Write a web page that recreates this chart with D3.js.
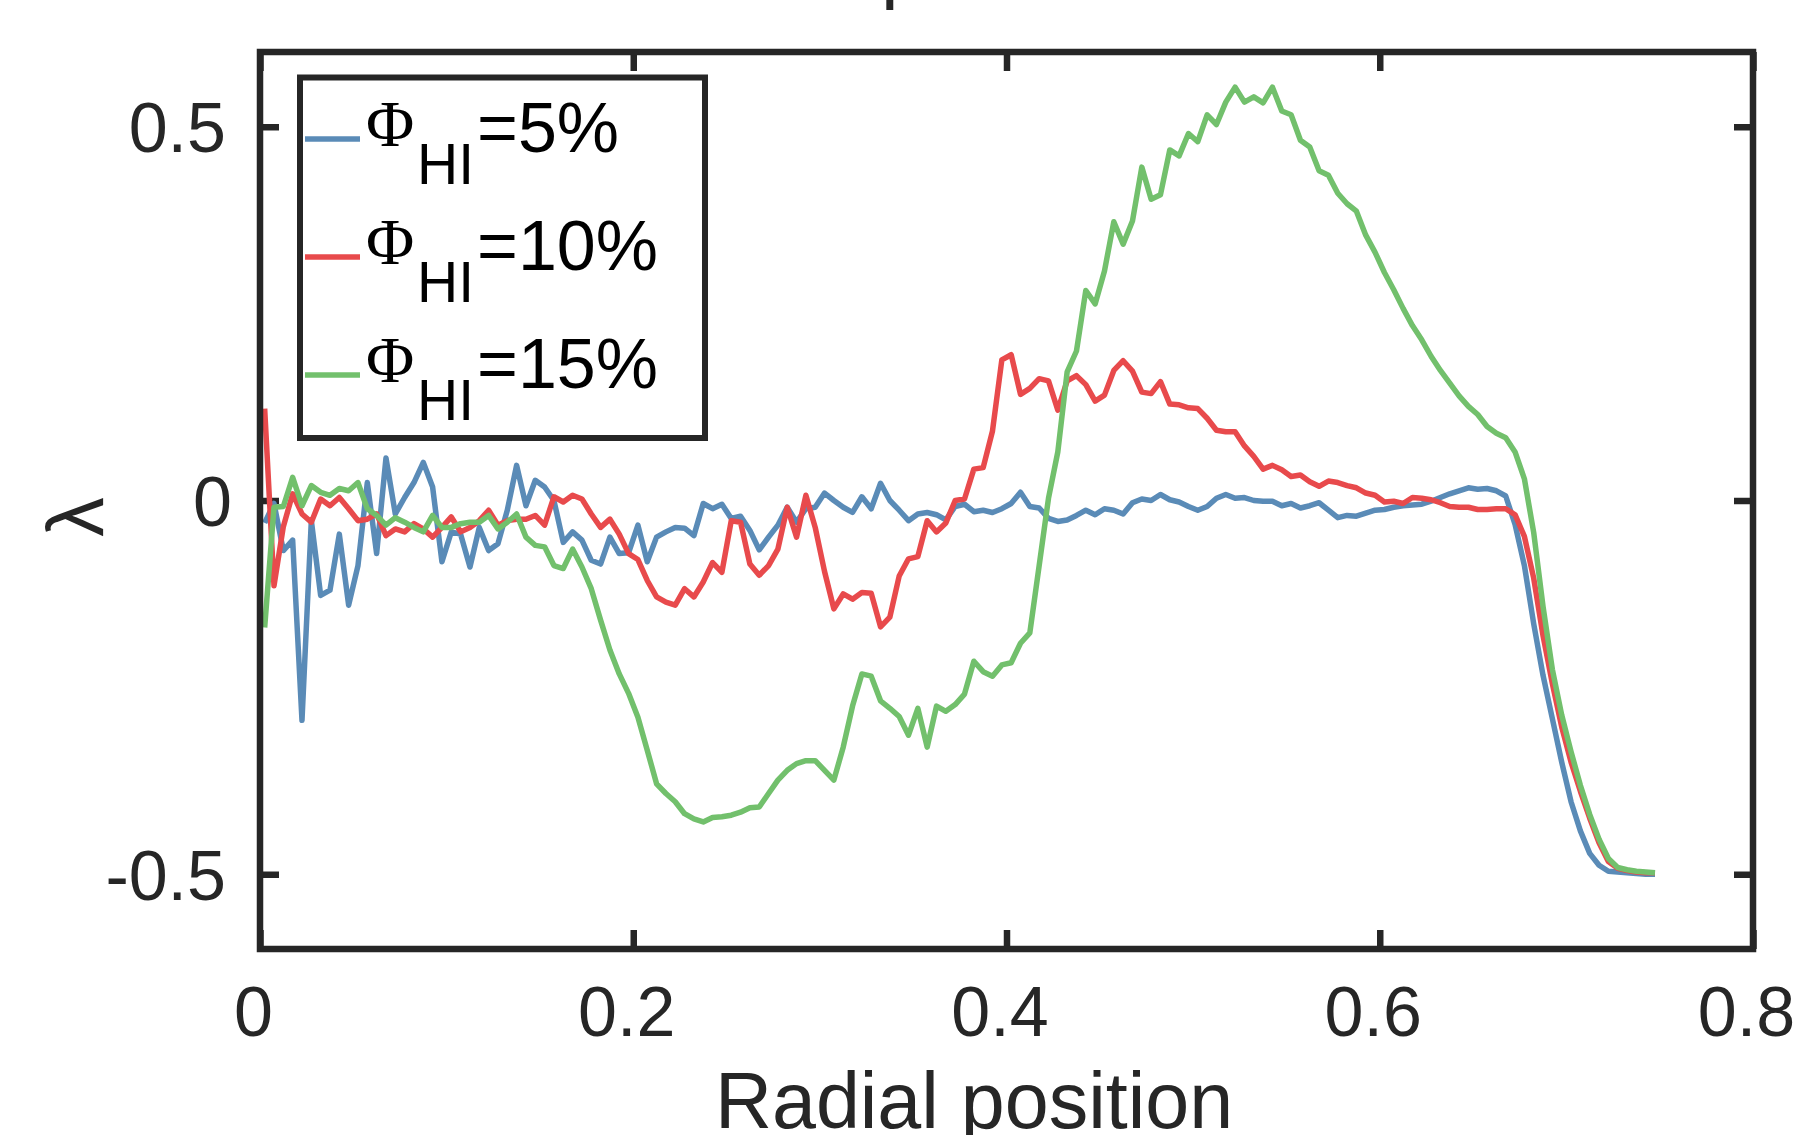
<!DOCTYPE html>
<html>
<head>
  <meta charset="utf-8">
  <script src="https://d3js.org/d3.v7.min.js"></script>
  <style>
    body { margin: 0; background: #fff; }
    svg { display: block; }
  </style>
</head>
<body>
<script>
  "use strict";

  // radial sampling grid (every 0.005, first sample at 0.0025)
  var radialPos = d3.range(150).map(function (i) { return 0.0025 + 0.005 * i; });

  // lambda values, one per radial sample
  var lambdaHI5 = [
    -0.030, -0.004, -0.067, -0.053, -0.294, -0.027, -0.127, -0.120, -0.045, -0.140,
    -0.087, 0.024, -0.071, 0.057, -0.018, 0.004, 0.024, 0.051, 0.018, -0.082,
    -0.042, -0.045, -0.089, -0.036, -0.067, -0.058, -0.013, 0.047, -0.007, 0.027,
    0.018, 0.000, -0.056, -0.042, -0.053, -0.080, -0.085, -0.049, -0.071, -0.070,
    -0.033, -0.082, -0.049, -0.042, -0.036, -0.037, -0.047, -0.004, -0.011, -0.005,
    -0.024, -0.021, -0.040, -0.066, -0.049, -0.033, -0.009, -0.029, -0.011, -0.009,
    0.010, 0.000, -0.009, -0.016, 0.005, -0.011, 0.023, 0.000, -0.013, -0.027,
    -0.018, -0.016, -0.019, -0.026, -0.008, -0.005, -0.015, -0.013, -0.016, -0.011,
    -0.004, 0.011, -0.008, -0.010, -0.024, -0.028, -0.026, -0.020, -0.013, -0.019,
    -0.011, -0.013, -0.018, -0.003, 0.002, 0.000, 0.008, 0.001, -0.002, -0.008,
    -0.013, -0.008, 0.003, 0.008, 0.003, 0.004, 0.000, -0.001, -0.001, -0.007,
    -0.004, -0.010, -0.007, -0.003, -0.013, -0.023, -0.020, -0.021, -0.017, -0.013,
    -0.012, -0.009, -0.007, -0.006, -0.005, -0.001, 0.004, 0.009, 0.013, 0.017,
    0.015, 0.016, 0.013, 0.006, -0.032, -0.087, -0.165, -0.234, -0.292, -0.350,
    -0.403, -0.442, -0.472, -0.488, -0.496, -0.497, -0.498, -0.499, -0.500, -0.500
  ];
  var lambdaHI10 = [
    0.123, -0.114, -0.035, 0.009, -0.018, -0.029, 0.002, -0.007, 0.004, -0.011,
    -0.027, -0.025, -0.018, -0.047, -0.038, -0.042, -0.031, -0.038, -0.049, -0.036,
    -0.022, -0.042, -0.036, -0.027, -0.013, -0.033, -0.027, -0.025, -0.025, -0.020,
    -0.033, 0.005, -0.002, 0.007, 0.002, -0.018, -0.036, -0.025, -0.045, -0.071,
    -0.079, -0.107, -0.129, -0.136, -0.140, -0.118, -0.129, -0.109, -0.083, -0.096,
    -0.027, -0.029, -0.085, -0.100, -0.087, -0.065, -0.009, -0.049, 0.007, -0.036,
    -0.095, -0.145, -0.125, -0.132, -0.123, -0.124, -0.169, -0.156, -0.101, -0.078,
    -0.075, -0.027, -0.042, -0.030, 0.000, 0.002, 0.042, 0.044, 0.093, 0.188,
    0.195, 0.142, 0.150, 0.163, 0.160, 0.121, 0.160, 0.167, 0.155, 0.133,
    0.141, 0.174, 0.187, 0.173, 0.145, 0.143, 0.159, 0.129, 0.128, 0.124,
    0.123, 0.110, 0.094, 0.092, 0.092, 0.073, 0.059, 0.042, 0.047, 0.041,
    0.032, 0.034, 0.025, 0.019, 0.026, 0.024, 0.020, 0.017, 0.010, 0.007,
    -0.002, -0.001, -0.004, 0.004, 0.003, 0.001, -0.003, -0.008, -0.009, -0.009,
    -0.012, -0.012, -0.011, -0.011, -0.019, -0.048, -0.104, -0.181, -0.245, -0.303,
    -0.350, -0.389, -0.425, -0.458, -0.483, -0.492, -0.495, -0.497, -0.498, -0.498
  ];
  var lambdaHI15 = [
    -0.170, -0.009, -0.008, 0.031, -0.007, 0.020, 0.011, 0.007, 0.016, 0.013,
    0.024, -0.011, -0.020, -0.033, -0.023, -0.029, -0.036, -0.042, -0.020, -0.036,
    -0.036, -0.031, -0.029, -0.029, -0.020, -0.038, -0.029, -0.018, -0.049, -0.060,
    -0.062, -0.087, -0.091, -0.065, -0.089, -0.118, -0.160, -0.200, -0.232, -0.258,
    -0.290, -0.334, -0.379, -0.392, -0.403, -0.419, -0.426, -0.430, -0.424, -0.423,
    -0.421, -0.417, -0.411, -0.410, -0.392, -0.374, -0.361, -0.352, -0.348, -0.348,
    -0.361, -0.374, -0.330, -0.275, -0.232, -0.235, -0.268, -0.278, -0.289, -0.314,
    -0.278, -0.330, -0.275, -0.282, -0.273, -0.259, -0.215, -0.229, -0.235, -0.220,
    -0.217, -0.191, -0.177, -0.087, 0.003, 0.065, 0.172, 0.200, 0.281, 0.263,
    0.307, 0.373, 0.343, 0.374, 0.446, 0.403, 0.409, 0.469, 0.461, 0.491,
    0.480, 0.516, 0.503, 0.533, 0.553, 0.533, 0.540, 0.532, 0.553, 0.521,
    0.516, 0.482, 0.473, 0.441, 0.435, 0.411, 0.397, 0.387, 0.355, 0.332,
    0.305, 0.282, 0.257, 0.234, 0.215, 0.193, 0.174, 0.157, 0.140, 0.126,
    0.115, 0.099, 0.090, 0.084, 0.065, 0.029, -0.043, -0.142, -0.226, -0.287,
    -0.336, -0.381, -0.420, -0.453, -0.479, -0.491, -0.494, -0.496, -0.497, -0.498
  ];

  var seriesLabels = ["=5%", "=10%", "=15%"];
  var seriesColors = ["#5a8bb7", "#e84a4c", "#72c06c"];
  var xTicks = [0, 0.2, 0.4, 0.6, 0.8];
  var yTicks = [-0.5, 0, 0.5];

  (function draw() {
    var W = 1800, H = 1135;
    var pLeft = 260, pRight = 1753, pTop = 52, pBottom = 949;
    var ink = "#262626";
    var sans = "'Liberation Sans', Arial, Helvetica, sans-serif";
    var serif = "'Liberation Serif', 'Times New Roman', serif";
    var lw = 5.5;

    var svg = d3.select("body").append("svg")
        .attr("width", W)
        .attr("height", H)
        .style("background", "#fff");

    var x = d3.scaleLinear().domain([0, 0.8]).range([pLeft, pRight]);
    var y = d3.scaleLinear().domain([-0.6, 0.6]).range([pBottom, pTop]);

    // axes, ticks pointing inward like matlab
    function styleAxis(g) {
      g.select(".domain").remove();
      g.attr("font-size", 70).attr("font-family", sans).attr("color", ink);
      g.selectAll(".tick line").attr("stroke", ink).attr("stroke-width", 6.5);
    }

    svg.append("g")
        .attr("transform", "translate(0," + pBottom + ")")
        .call(d3.axisBottom(x).tickValues(xTicks).tickSize(-19)
          .tickFormat(function (d) { return String(d); }))
        .call(styleAxis)
        .selectAll("text")
          .attr("y", 87)
          .attr("dy", null)
          .attr("dx", -7);

    svg.append("g")
        .attr("transform", "translate(0," + pTop + ")")
        .call(d3.axisTop(x).tickValues(xTicks).tickSize(-19).tickFormat(""))
        .call(styleAxis);

    svg.append("g")
        .attr("transform", "translate(" + pLeft + ",0)")
        .call(d3.axisLeft(y).tickValues(yTicks).tickSize(-19)
          .tickFormat(function (d) { return String(d); }))
        .call(styleAxis)
        .selectAll("text")
          .attr("x", function (d) { return d === 0 ? -28 : -34; })
          .attr("dy", "0.357em");

    svg.append("g")
        .attr("transform", "translate(" + pRight + ",0)")
        .call(d3.axisRight(y).tickValues(yTicks).tickSize(-19).tickFormat(""))
        .call(styleAxis);

    // data lines
    var line = d3.line()
        .x(function (d, i) { return x(radialPos[i]); })
        .y(function (d) { return y(d); });

    [lambdaHI5, lambdaHI10, lambdaHI15].forEach(function (vals, k) {
      svg.append("path")
          .datum(vals)
          .attr("fill", "none")
          .attr("stroke", seriesColors[k])
          .attr("stroke-width", lw)
          .attr("stroke-linejoin", "round")
          .attr("d", line);
    });

    // axes box
    svg.append("rect")
        .attr("x", pLeft)
        .attr("y", pTop)
        .attr("width", pRight - pLeft)
        .attr("height", pBottom - pTop)
        .attr("fill", "none")
        .attr("stroke", ink)
        .attr("stroke-width", 6.5);

    // legend
    var legend = svg.append("g");
    legend.append("rect")
        .attr("x", 300).attr("y", 77.5)
        .attr("width", 405).attr("height", 360.5)
        .attr("fill", "#fff")
        .attr("stroke", ink)
        .attr("stroke-width", 6);

    seriesLabels.forEach(function (lab, k) {
      var by = 152 + 118 * k;
      legend.append("line")
          .attr("x1", 305).attr("x2", 360)
          .attr("y1", by - 13).attr("y2", by - 13)
          .attr("stroke", seriesColors[k])
          .attr("stroke-width", lw);
      legend.append("text")
          .attr("x", 366).attr("y", by - 6)
          .attr("font-family", serif).attr("font-size", 66)
          .attr("fill", "#000")
          .text("\u03A6");
      legend.append("text")
          .attr("x", 417).attr("y", by + 32)
          .attr("font-family", sans).attr("font-size", 57)
          .attr("fill", "#000")
          .text("HI");
      legend.append("text")
          .attr("x", 477).attr("y", by)
          .attr("font-family", sans).attr("font-size", 70)
          .attr("fill", "#000")
          .text(lab);
    });

    // axis labels
    svg.append("text")
        .attr("x", 974).attr("y", 1128)
        .attr("text-anchor", "middle")
        .attr("font-family", sans).attr("font-size", 79)
        .attr("fill", ink)
        .text("Radial position");

    svg.append("text")
        .attr("transform", "translate(103,517) rotate(-90)")
        .attr("text-anchor", "middle")
        .attr("font-family", sans).attr("font-size", 79)
        .attr("fill", ink)
        .text("\u03BB");

    // title sits above the page edge, only a descender shows
    svg.append("text")
        .attr("x", 881).attr("y", -7)
        .attr("font-family", sans).attr("font-size", 79)
        .attr("fill", ink)
        .text("p");
  })();
</script>
</body>
</html>
